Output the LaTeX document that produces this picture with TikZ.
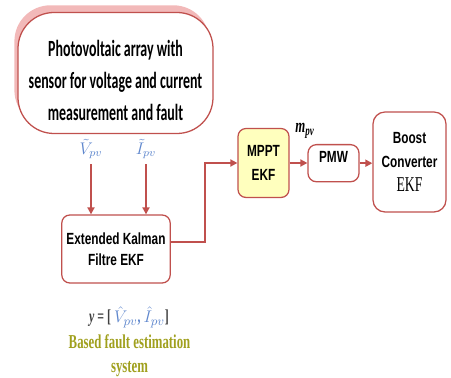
\documentclass[tikz,border=0pt]{standalone}
\usepackage{fontspec}
\usetikzlibrary{arrows.meta, shadows}

\newfontfamily\calfont[FakeStretch=0.6]{Carlito}
\newfontfamily\arfont[FakeStretch=0.73]{Liberation Sans}
\newfontfamily\tmfont[FakeStretch=0.65]{Liberation Serif}

\definecolor{boxred}{RGB}{192,80,77}
\definecolor{lblblue}{RGB}{95,135,205}
\definecolor{olivetxt}{RGB}{160,160,30}
\definecolor{mpptfill}{RGB}{255,255,190}
\definecolor{shadowred}{RGB}{242,185,185}

\begin{document}
\begin{tikzpicture}[
    block/.style={rectangle, draw=boxred, line width=0.9pt,
              rounded corners=6pt, text centered, align=center,
              fill=white, font={\arfont\bfseries\fontsize{11.5}{17}\selectfont}},
    pvblock/.style={block, rounded corners=0.9cm,
              general shadow={fill=shadowred, shadow xshift=-0.09cm, shadow yshift=0.18cm},
              font={\calfont\bfseries\fontsize{16.5}{23}\selectfont}},
    sig/.style={text=lblblue, font=\large},
    arrow/.style={-{Triangle[length=5pt, width=5pt]}, line width=1.3pt, draw=boxred}
]
    \useasboundingbox (0,0) rectangle (11.275,-9.45);

    \node[pvblock, minimum width=4.875cm, minimum height=3.025cm] (pv)
        at (2.8875,-1.825)
        {\rule{0pt}{22pt}Photovoltaic array with\\sensor for voltage and current\\measurement and fault};

    \node[sig] (vpv) at (2.275,-3.725) {$\tilde{V}_{pv}$};
    \node[sig] (ipv) at (3.65,-3.725) {$\tilde{I}_{pv}$};

    \node[block, minimum width=2.6cm, minimum height=1.7cm, rounded corners=0.2cm,
          font={\arfont\bfseries\fontsize{11.5}{15}\selectfont}] (ekf)
        at (2.9,-6.225) {Extended Kalman\\Filtre EKF};
    \node[block, fill=mpptfill, minimum width=1.275cm, minimum height=1.725cm,
          rounded corners=0.2cm] (mppt)
        at (6.5875,-4.075) {MPPT\\EKF};
    \node[block, minimum width=1.275cm, inner ysep=5pt, text depth=8.5pt,
          anchor=north] (pmw)
        at (8.3375,-3.6) {PMW};
    \node[block, minimum width=1.825cm, minimum height=2.5cm, rounded corners=0.3cm] (boost)
        at (10.2375,-4.05)
        {Boost\\Converter\\{\tmfont\mdseries\fontsize{15}{16}\selectfont EKF}};

    \node[font={\tmfont\fontsize{14}{16}\selectfont}] (mpv) at (7.625,-3.275)
        {\bfseries\itshape m\textsubscript{pv}};
    \node[font={\tmfont\bfseries\fontsize{13}{15}\selectfont}, text=black!75] (yout)
        at (3.225,-7.925)
        {\itshape y\upshape\ = [ \textcolor{lblblue}{$\hat{V}_{pv}$, $\hat{I}_{pv}$}]};
    \node[align=center, text=olivetxt,
          font={\tmfont\bfseries\fontsize{14}{17}\selectfont}] (fault)
        at (3.2375,-8.9) {Based fault estimation\\system};

    \coordinate (bend) at (5.125,-4.075);

    \draw[arrow] (vpv) -- (vpv |- ekf.north);
    \draw[arrow] (ipv) -- (ipv |- ekf.north);
    \draw[arrow] ([yshift=0.175cm]ekf.east) -| (bend) -- (mppt.west);
    \draw[arrow] (mppt.east) -- (mppt.east -| pmw.west);
    \draw[arrow] (pmw.east) -- (pmw.east -| boost.west);
\end{tikzpicture}
\end{document}
